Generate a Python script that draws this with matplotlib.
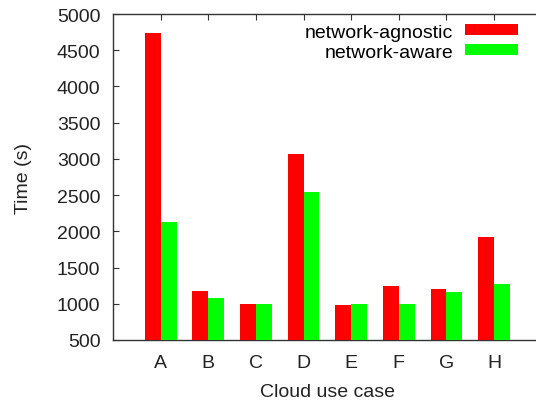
import numpy as np
import matplotlib
matplotlib.use('Agg')
import matplotlib.pyplot as plt

plt.rcParams['font.family'] = ['Liberation Sans', 'DejaVu Sans']
plt.rcParams['font.size'] = 14

# Data
cases = ['A', 'B', 'C', 'D', 'E', 'F', 'G', 'H']
agnostic = [4740, 1180, 1000, 3070, 985, 1245, 1205, 1920]
aware = [2130, 1080, 1000, 2545, 1000, 1000, 1165, 1275]

x = np.arange(len(cases))
width = 1 / 3

fig = plt.figure(figsize=(5.36, 4.06), dpi=100)
ax = fig.add_axes([113 / 536, 65 / 406, 428.7 / 536, 326 / 406])

ax.bar(x - width / 2, agnostic, width, bottom=0, color='#ff0000',
       label='network-agnostic', zorder=3)
ax.bar(x + width / 2, aware, width, bottom=0, color='#00ff00',
       label='network-aware', zorder=3)

ax.set_xlim(-1, len(cases))
ax.set_ylim(500, 5000)
ax.set_yticks(np.arange(500, 5001, 500))
ax.set_xticks(x)
ax.set_xticklabels(cases)

ax.tick_params(axis='x', direction='in', top=True, bottom=False,
               labelbottom=True, length=4, pad=10, colors='#333333',
               labelcolor='#222222')
ax.tick_params(axis='y', direction='in', left=True, right=False,
               length=4, pad=9, colors='#333333', labelcolor='#222222')
for s in ax.spines.values():
    s.set_color('#333333')
    s.set_linewidth(1.0)

ax.set_ylabel('Time (s)', labelpad=18, color='#222222')
ax.set_xlabel('Cloud use case', labelpad=9, color='#222222')

ax.legend(loc='upper right', bbox_to_anchor=(412 / 428.7, 1 - 3 / 326),
          frameon=False, markerfirst=False, handlelength=2.75,
          handleheight=0.5, handletextpad=0.6, labelspacing=0.15,
          borderaxespad=0.15, borderpad=0.2)

fig.savefig('out.png', dpi=100)
